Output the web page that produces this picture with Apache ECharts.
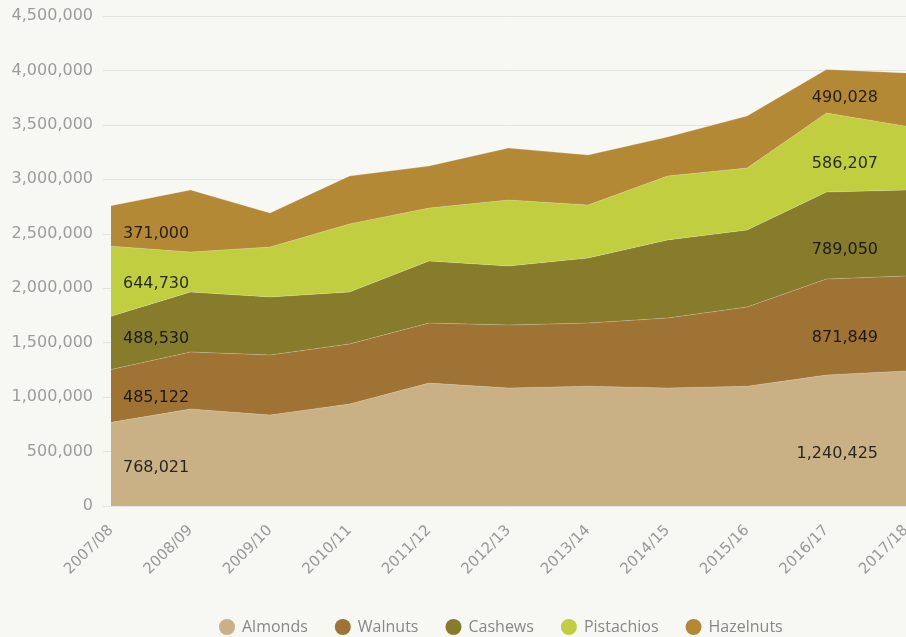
<!DOCTYPE html>
<html>
<head>
<meta charset="utf-8">
<script src="https://cdn.jsdelivr.net/npm/echarts@6/dist/echarts.min.js"></script>
<style>
html,body{margin:0;padding:0;background:#f7f7f3;}
#chart{width:906px;height:637px;}
</style>
</head>
<body>
<div id="chart"></div>
<script>
var years = ['2007/08','2008/09','2009/10','2010/11','2011/12','2012/13','2013/14','2014/15','2015/16','2016/17','2017/18'];
var names = ['Almonds','Walnuts','Cashews','Pistachios','Hazelnuts'];
var colors = ['#c9b185','#9e7333','#867c2c','#c0ce3f','#b48936'];
var almonds = [768021, 891000, 836000, 937000, 1129000, 1084000, 1100000, 1084000, 1100000, 1203000, 1240425];
var walnuts = [485122, 523000, 551000, 551000, 551000, 578000, 580000, 642000, 727000, 881000, 871849];
var cashews = [488530, 551000, 532000, 477000, 570000, 542000, 597000, 717000, 707000, 799000, 789050];
var pistachios = [644730, 367000, 459000, 625000, 486000, 606000, 487000, 587000, 570000, 726000, 586207];
var hazelnuts = [371000, 570000, 312000, 440000, 386000, 477000, 459000, 358000, 477000, 400000, 490028];
var allData = [almonds, walnuts, cashews, pistachios, hazelnuts];

// small vertical nudges for the band labels (px), first / last year
var nudgeFirst = [4, 2, -4, 3, 8];
var nudgeLast = [15, 14, 17, 6, -2];

function fmt(v){ return v.toLocaleString('en-US'); }

var series = [];
allData.forEach(function(d, i){
  series.push({
    name: names[i],
    type: 'line',
    stack: 'total',
    data: d,
    showSymbol: false,
    symbol: 'circle',
    lineStyle: {width: 0.6, color: 'rgba(255,255,255,0.35)'},
    itemStyle: {color: colors[i]},
    areaStyle: {color: colors[i], opacity: 1},
    emphasis: {disabled: true},
    z: 2
  });
});

// labels in the middle of each band, first and last year
var first = [], last = [];
var base0 = 0, baseN = 0, n = years.length - 1;
allData.forEach(function(d, i){
  first.push({value: [years[0], base0 + d[0] / 2, d[0]], label: {offset: [0, nudgeFirst[i]]}});
  last.push({value: [years[n], baseN + d[n] / 2, d[n]], label: {offset: [0, nudgeLast[i]]}});
  base0 += d[0];
  baseN += d[n];
});
var lbl = {show: true, color: '#000', fontSize: 16, fontFamily: 'DejaVu Sans',
  formatter: function(p){ return fmt(p.value[2]); }};
series.push({
  type: 'scatter', name: 'lf', data: first, symbolSize: 0, silent: true, z: 5,
  label: Object.assign({}, lbl, {position: 'right', distance: 12})
});
series.push({
  type: 'scatter', name: 'll', data: last, symbolSize: 0, silent: true, z: 5,
  label: Object.assign({}, lbl, {position: 'left', distance: 28})
});

var chart = echarts.init(document.getElementById('chart'));
chart.setOption({
  backgroundColor: '#f7f7f3',
  animation: false,
  grid: {left: 111, right: 0, top: 16, bottom: 131, outerBoundsMode: 'none', containLabel: false},
  legend: {
    data: names,
    left: 214, top: 614,
    icon: 'circle', itemWidth: 16, itemHeight: 16, itemGap: 27, itemStyle: {borderWidth: 0},
    textStyle: {color: '#888', fontSize: 16, fontFamily: 'Open Sans', padding: [0, 0, 0, 2]}
  },
  xAxis: {
    type: 'category', data: years, boundaryGap: false,
    axisLine: {show: false}, axisTick: {show: false},
    axisLabel: {rotate: 45, color: '#999', fontSize: 15, fontFamily: 'DejaVu Sans', margin: 22, interval: 0}
  },
  yAxis: {
    type: 'value', min: 0, max: 4500000, interval: 500000,
    axisLine: {show: false},
    axisTick: {show: true, length: 8, lineStyle: {color: '#e3e3e1'}},
    splitLine: {lineStyle: {color: '#e3e3e1'}},
    axisLabel: {color: '#9c9c9c', fontSize: 16, fontFamily: 'DejaVu Sans', margin: 18,
      formatter: function(v){ return fmt(v); }}
  },
  series: series
});
</script>
</body>
</html>
